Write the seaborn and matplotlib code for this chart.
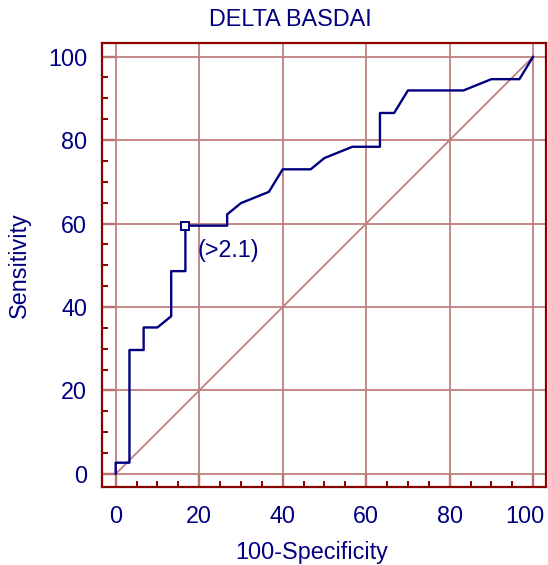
import pandas as pd
import matplotlib
matplotlib.use('Agg')
import matplotlib.pyplot as plt
import matplotlib.transforms as mtransforms
from matplotlib.ticker import MultipleLocator
import seaborn as sns

# ROC curve points (100-Specificity, Sensitivity)
fpr = [0, 0, 3.3, 3.3, 6.7, 6.7, 10, 13.3, 13.3, 16.7, 16.7, 26.7, 26.7, 30, 36.7,
       40, 46.7, 50, 56.7, 63.3, 63.3, 66.7, 70, 83.3, 90, 96.7, 100]
tpr = [0, 2.7, 2.7, 29.7, 29.7, 35.1, 35.1, 37.8, 48.6, 48.6, 59.5, 59.5, 62.2, 64.9, 67.6,
       73.0, 73.0, 75.7, 78.4, 78.4, 86.5, 86.5, 91.9, 91.9, 94.6, 94.6, 100]

# criterion point
cut_x = 16.7
cut_y = 59.5
cut_label = '(>2.1)'

ticks = [0, 20, 40, 60, 80, 100]

df = pd.DataFrame({'x': fpr, 'y': tpr})

sns.set_style('white')
plt.rcParams['font.family'] = ['Liberation Sans', 'DejaVu Sans']

navy = '#000080'
frame = '#8b0000'
grid = '#c08080'
fs = 16.8

fig = plt.figure(figsize=(5.48, 5.65), dpi=100)
ax = fig.add_axes([0.1867, 0.1386, 0.8091, 0.7848])

# grid and diagonal
for t in ticks:
    ax.axvline(t, color=grid, lw=1.3, zorder=1)
    ax.axhline(t, color=grid, lw=1.3, zorder=1)
sns.lineplot(x=[0, 100], y=[0, 100], color=grid, lw=1.3, ax=ax, zorder=2)

# ROC curve
sns.lineplot(data=df, x='x', y='y', sort=False, estimator=None,
             color=navy, lw=1.7, ax=ax, zorder=3)
ax.plot([cut_x], [cut_y], marker='s', ms=6, mfc='white', mec=navy, mew=1.4,
        ls='none', zorder=4)
ax.text(cut_x + 3.0, cut_y - 6.0, cut_label, color=navy, fontsize=fs,
        ha='left', va='center')

ax.set_xlim(-3.2, 103.0)
ax.set_ylim(-3.05, 103.2)
ax.set_xticks(ticks)
ax.set_yticks(ticks)
ax.xaxis.set_minor_locator(MultipleLocator(5))
ax.yaxis.set_minor_locator(MultipleLocator(5))

for side in ['left', 'bottom', 'right', 'top']:
    ax.spines[side].set_color(frame)
    ax.spines[side].set_linewidth(1.6)

ax.tick_params(which='major', direction='in', length=9.4, width=1.6, color=frame,
               labelcolor=navy, labelsize=fs, bottom=True, left=True,
               top=False, right=False)
ax.tick_params(axis='y', which='major', pad=11)
ax.tick_params(axis='x', which='major', pad=13)
ax.tick_params(which='minor', direction='in', length=4.5, width=1.4, color=frame,
               bottom=True, left=True, top=False, right=False)

# last x label is pulled left to stay inside the figure
last = ax.get_xticklabels()[-1]
last.set_transform(last.get_transform() +
                   mtransforms.ScaledTranslation(-8 / 100, 0, fig.dpi_scale_trans))

fig.text(290 / 548, 1 - 20 / 565, 'DELTA BASDAI', color=navy, fontsize=fs,
         ha='center', va='center')
fig.text(312 / 548, 1 - 552 / 565, '100-Specificity', color=navy, fontsize=fs,
         ha='center', va='center')
ax.set_xlabel('')
ax.set_ylabel('Sensitivity', color=navy, fontsize=fs, labelpad=12)

fig.savefig('out.png', dpi=100)
